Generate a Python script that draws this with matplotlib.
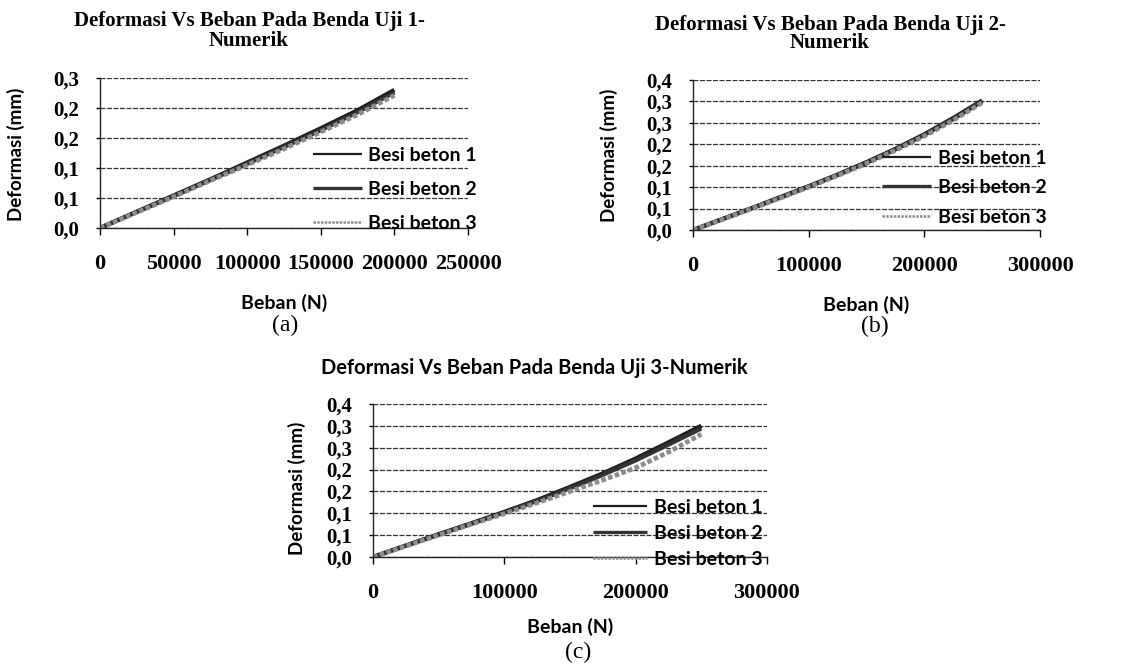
import numpy as np
import matplotlib
matplotlib.use('Agg')
import matplotlib.pyplot as plt

# ---- data ----
beban_a = [0, 25000, 50000, 75000, 100000, 125000, 150000, 175000, 200000]
besi1_a = [0, 0.027, 0.054, 0.081, 0.109, 0.137, 0.166, 0.196, 0.230]
besi2_a = [0, 0.027, 0.053, 0.080, 0.107, 0.135, 0.163, 0.193, 0.226]
besi3_a = [0, 0.026, 0.052, 0.079, 0.105, 0.132, 0.160, 0.189, 0.221]

beban_b = [0, 25000, 50000, 75000, 100000, 125000, 150000, 175000, 200000, 225000, 250000]
besi1_b = [0, 0.025, 0.050, 0.076, 0.102, 0.129, 0.158, 0.189, 0.223, 0.261, 0.302]
besi2_b = [0, 0.025, 0.050, 0.075, 0.101, 0.128, 0.157, 0.188, 0.222, 0.259, 0.300]
besi3_b = [0, 0.024, 0.049, 0.074, 0.100, 0.127, 0.155, 0.186, 0.219, 0.256, 0.297]

beban_c = [0, 25000, 50000, 75000, 100000, 125000, 150000, 175000, 200000, 225000, 250000]
besi1_c = [0, 0.026, 0.052, 0.077, 0.103, 0.130, 0.160, 0.191, 0.225, 0.262, 0.300]
besi2_c = [0, 0.026, 0.051, 0.076, 0.102, 0.128, 0.157, 0.188, 0.221, 0.257, 0.294]
besi3_c = [0, 0.025, 0.050, 0.075, 0.099, 0.124, 0.150, 0.176, 0.204, 0.240, 0.281]

labels = ['Besi beton 1', 'Besi beton 2', 'Besi beton 3']

xticks_a = [0, 50000, 100000, 150000, 200000, 250000]
xticks_bc = [0, 100000, 200000, 300000]
yticks_a = [0, 0.05, 0.10, 0.15, 0.20, 0.25]
ylabels_a = ['0,0', '0,1', '0,1', '0,2', '0,2', '0,3']
yticks_bc = [0, 0.05, 0.10, 0.15, 0.20, 0.25, 0.30, 0.35]
ylabels_bc = ['0,0', '0,1', '0,1', '0,2', '0,2', '0,3', '0,3', '0,4']

titles = ['Deformasi Vs Beban Pada Benda Uji 1-\nNumerik',
          'Deformasi Vs Beban Pada Benda Uji 2-\nNumerik',
          'Deformasi Vs Beban Pada Benda Uji 3-Numerik']

W, H = 1124, 666
SERIF = 'Liberation Serif'
SANS = ['Lato', 'DejaVu Sans']

fig = plt.figure(figsize=(W / 100, H / 100), dpi=100)
fig.patch.set_facecolor('white')


def px_axes(left, top, right, bottom):
    return fig.add_axes([left / W, 1 - bottom / H, (right - left) / W, (bottom - top) / H])


def draw(ax, x, ys, xticks, yticks, ylabels, leg_xy, leg_sp, hl):
    styles = [dict(color='#1c1c1c', lw=3.2),
              dict(color='#333333', lw=3.0),
              dict(color='#8c8c8c', lw=3.4, ls=(0, (1, 0.5)))]
    for y, st, lab in zip(ys, styles, labels):
        ax.plot(x, y, label=lab, solid_capstyle='butt', **st)
    ax.set_xlim(xticks[0], xticks[-1])
    ax.set_ylim(yticks[0], yticks[-1])
    ax.set_xticks(xticks)
    ax.set_xticklabels([str(v) for v in xticks], fontfamily=SERIF, fontweight='bold', fontsize=16)
    ax.set_yticks(yticks)
    ax.set_yticklabels(ylabels, fontfamily=SERIF, fontweight='bold', fontsize=15)
    ax.tick_params(axis='x', direction='out', length=5, pad=14, width=1)
    ax.tick_params(axis='y', direction='out', length=3, pad=12, width=1)
    ax.yaxis.grid(True, color='#333333', lw=0.9, ls=(0, (4, 1.2)))
    ax.set_axisbelow(True)
    for s in ['top', 'right']:
        ax.spines[s].set_visible(False)
    for s in ['left', 'bottom']:
        ax.spines[s].set_color('#222222')
        ax.spines[s].set_linewidth(1)
    ax.set_xlabel('Beban (N)', fontfamily=SANS, fontweight='bold', fontsize=14)
    ax.set_ylabel('Deformasi (mm)', fontfamily=SANS, fontweight='bold', fontsize=13.5)
    leg = ax.legend(loc='upper left', bbox_to_anchor=leg_xy, frameon=False, borderpad=0,
                    borderaxespad=0, handlelength=hl, handletextpad=0.35, labelspacing=leg_sp,
                    prop={'family': SANS, 'weight': 'bold', 'size': 14})
    for h, lw in zip(leg.get_lines(), [1.6, 2.4, 1.8]):
        h.set_linewidth(lw)
    return ax


ax_a = px_axes(100, 78, 468, 228)
draw(ax_a, beban_a, [besi1_a, besi2_a, besi3_a], xticks_a, yticks_a, ylabels_a,
     (0.579, 0.543), 0.88, 2.5)
ax_a.xaxis.set_label_coords(0.5, -0.44)
ax_a.yaxis.set_label_coords(-0.204, 0.49)

ax_b = px_axes(693, 80, 1040, 230)
draw(ax_b, beban_b, [besi1_b, besi2_b, besi3_b], xticks_bc, yticks_bc, ylabels_bc,
     (0.545, 0.536), 0.65, 2.5)
ax_b.xaxis.set_label_coords(0.5, -0.44)
ax_b.yaxis.set_label_coords(-0.216, 0.5)

ax_c = px_axes(373, 404, 767, 557)
draw(ax_c, beban_c, [besi1_c, besi2_c, besi3_c], xticks_bc, yticks_bc, ylabels_bc,
     (0.558, 0.382), 0.47, 2.8)
ax_c.xaxis.set_label_coords(0.5, -0.40)
ax_c.yaxis.set_label_coords(-0.17, 0.45)

# titles
fig.text(249 / W, 1 - 31 / H, titles[0], ha='center', va='center', fontfamily=SERIF,
         fontweight='bold', fontsize=15, linespacing=1.05)
fig.text(830 / W, 1 - 34 / H, titles[1], ha='center', va='center', fontfamily=SERIF,
         fontweight='bold', fontsize=15, linespacing=0.9)
fig.text(534 / W, 1 - 368 / H, titles[2], ha='center', va='center', fontfamily=SANS,
         fontweight='bold', fontsize=14.5)

# panel letters
fig.text(285 / W, 1 - 325 / H, '(a)', ha='center', va='center', fontfamily=SERIF, fontsize=17)
fig.text(875 / W, 1 - 326 / H, '(b)', ha='center', va='center', fontfamily=SERIF, fontsize=17)
fig.text(578 / W, 1 - 652 / H, '(c)', ha='center', va='center', fontfamily=SERIF, fontsize=17)

fig.savefig('out.png', dpi=100, facecolor='white')
